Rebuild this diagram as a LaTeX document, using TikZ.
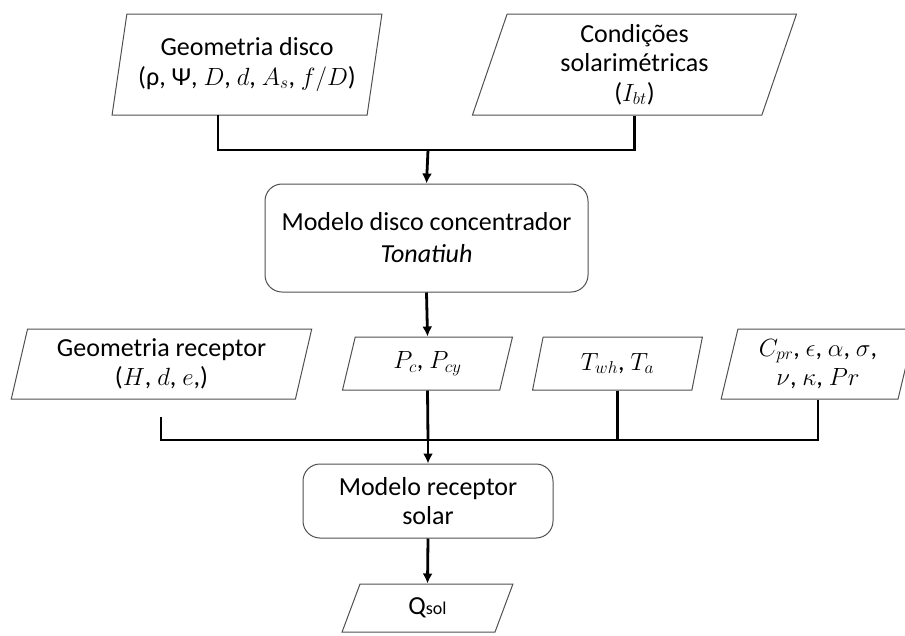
\documentclass[tikz,border=0pt]{standalone}
\usepackage{fontspec}
\setmainfont{Carlito}
\usetikzlibrary{shapes.geometric,arrows.meta}
\definecolor{boxgray}{HTML}{505050}
\tikzset{
  base/.style={draw=boxgray, line width=1pt, align=center, inner sep=0pt,
    font=\fontsize{26}{29.5}\selectfont},
  para/.style={base, shape=trapezium, trapezium left angle=76,
    trapezium right angle=104, trapezium stretches=true},
  proc/.style={base, rectangle, rounded corners=17pt},
  link/.style={line width=2.8pt, black},
  flow/.style={link, -{Latex[length=10pt,width=10pt]}}
}
\begin{document}
\begin{tikzpicture}[x=1pt,y=-1pt]
\useasboundingbox (0,0) rectangle (905,635);

% input data at the top
\node[para, minimum width=270, minimum height=101] (gd) at (247,64.5)
  {Geometria disco\\(ρ, Ψ, $D$, $d$, $A_s$, $f/D$)};
\node[para, minimum width=325, minimum height=101] (cs) at (634.5,64.5)
  {Condições\\solarimétricas\\($I_{bt}$)};

% dish model
\node[proc, minimum width=323, minimum height=108,
  font=\fontsize{26}{32}\selectfont] (mdc) at (426.5,238)
  {Modelo disco concentrador\\\textit{Tonatiuh}};

% receiver inputs
\node[para, minimum width=301, minimum height=70] (gr) at (161.5,364)
  {Geometria receptor\\($H$, $d$, $e$,)};
\node[para, minimum width=171, minimum height=53] (pc) at (427.5,363.5)
  {$P_c$, $P_{cy}$};
\node[para, minimum width=171, minimum height=53] (tw) at (617.5,363.5)
  {$T_{wh}$, $T_a$};
\node[para, minimum width=194, minimum height=70] (cp) at (818,364)
  {$C_{pr}$, $\epsilon$, $\alpha$, $\sigma$,\\$\nu$, $\kappa$, $Pr$};

% receiver model and output
\node[proc, minimum width=250, minimum height=74] (mrs) at (428,501)
  {Modelo receptor\\solar};
\node[para, minimum width=171, minimum height=48] (q) at (427.5,608)
  {Q{\fontsize{18}{18}\selectfont sol}};

% junction points
\coordinate (j1) at (428,150);
\coordinate (j2) at (428,440);
\coordinate (gdo) at (218,115);
\coordinate (gro) at (161,417);

% upper merge
\draw[link] (gdo) |- (j1) -| (cs.south);
\draw[flow] (j1) -- (mdc.north);
\draw[flow] (mdc.south) -- (pc.north);

% lower merge
\draw[link] (gro) |- (j2) -| (cp.south);
\draw[link] (pc.south) -- (j2);
\draw[link] (tw.south) -- (tw.south |- j2);
\draw[flow] (j2) -- (mrs.north);
\draw[flow] (mrs.south) -- (q.north);
\end{tikzpicture}
\end{document}
